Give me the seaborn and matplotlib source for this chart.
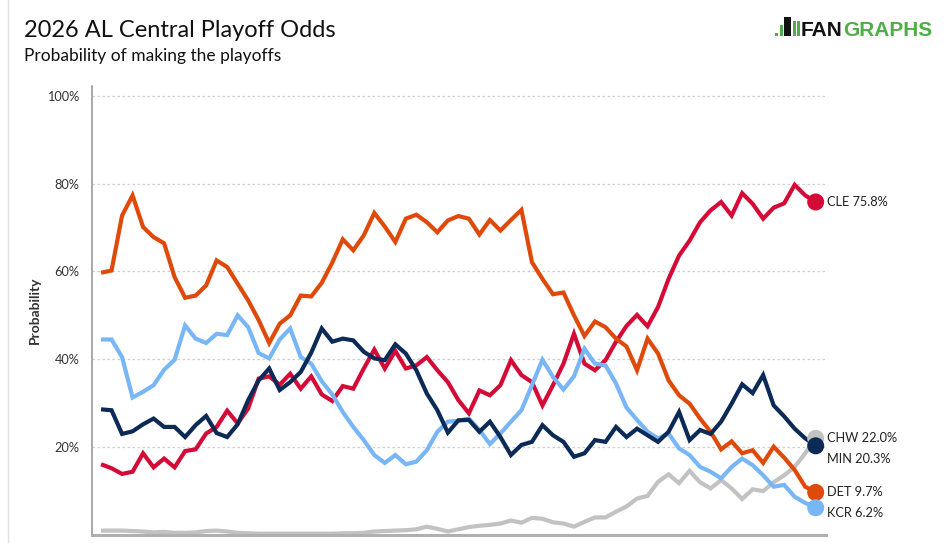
import matplotlib
matplotlib.use("Agg")
import matplotlib.pyplot as plt
import pandas as pd
import seaborn as sns
from matplotlib.lines import Line2D
from matplotlib.patches import Rectangle

# playoff odds (%) per update
cle = [16.1, 15.2, 13.9, 14.4, 18.6, 15.4, 17.4, 15.4, 19.1, 19.5,
       23.1, 24.6, 28.3, 25.4, 28.8, 35.6, 36.1, 34.2, 36.7, 33.3,
       36.1, 32.0, 30.5, 33.9, 33.3, 37.9, 42.2, 37.9, 41.9, 37.9,
       38.6, 40.5, 37.5, 34.8, 30.7, 27.7, 32.9, 31.8, 34.1, 39.8,
       36.4, 34.8, 29.5, 34.1, 39.0, 45.8, 39.0, 37.5, 39.8, 44.0,
       47.6, 50.1, 47.5, 51.9, 58.3, 63.6, 67.0, 71.2, 73.9, 75.8,
       72.7, 77.8, 75.4, 72.0, 74.5, 75.5, 79.7, 77.3, 75.8]
chw = [1.0, 1.0, 1.0, 0.9, 0.8, 0.6, 0.7, 0.5, 0.5, 0.6,
       0.9, 1.0, 0.8, 0.5, 0.4, 0.3, 0.3, 0.3, 0.3, 0.3,
       0.3, 0.3, 0.3, 0.4, 0.4, 0.5, 0.8, 0.9, 1.0, 1.1,
       1.3, 1.9, 1.4, 0.8, 1.3, 1.8, 2.1, 2.3, 2.6, 3.3,
       2.8, 3.9, 3.7, 2.9, 2.6, 1.9, 3.0, 4.0, 4.0, 5.3,
       6.5, 8.3, 8.9, 12.1, 13.8, 11.8, 14.6, 12.0, 10.6, 12.5,
       10.6, 8.2, 10.4, 10.0, 12.0, 13.6, 15.5, 18.6, 22.0]
mn = [28.6, 28.4, 23.0, 23.6, 25.2, 26.5, 24.6, 24.6, 22.3, 25.0,
      27.1, 23.2, 22.3, 25.2, 30.7, 35.2, 37.9, 33.0, 34.8, 37.1,
      41.5, 47.0, 44.0, 44.7, 44.3, 41.7, 40.2, 39.8, 43.4, 41.3,
      37.5, 32.2, 28.4, 23.3, 26.1, 26.2, 23.5, 25.8, 22.3, 18.2,
      20.5, 21.2, 25.0, 22.7, 21.2, 17.8, 18.6, 21.6, 21.2, 24.6,
      22.3, 24.2, 22.7, 21.2, 23.5, 28.0, 21.6, 23.9, 23.0, 25.8,
      29.9, 34.3, 32.3, 36.4, 29.5, 27.0, 24.2, 22.0, 20.3]
det = [59.7, 60.2, 72.7, 77.3, 70.1, 67.8, 66.4, 58.7, 54.0, 54.5,
       56.8, 62.5, 61.0, 57.2, 53.4, 48.9, 43.7, 48.1, 50.0, 54.5,
       54.3, 57.4, 62.0, 67.3, 64.8, 68.2, 73.3, 70.2, 66.7, 72.0,
       72.9, 71.2, 68.9, 71.6, 72.6, 72.0, 68.4, 71.7, 69.3, 71.7,
       74.0, 62.1, 58.3, 54.8, 55.2, 50.0, 45.3, 48.6, 47.3, 44.7,
       42.9, 37.5, 44.7, 41.3, 35.2, 31.8, 29.9, 26.5, 23.5, 19.5,
       21.3, 18.6, 19.3, 16.4, 20.1, 17.6, 14.8, 11.0, 9.7]
kcr = [44.5, 44.5, 40.5, 31.3, 32.6, 34.1, 37.6, 39.9, 47.7, 44.7,
       43.7, 45.8, 45.5, 50.0, 47.3, 41.4, 40.2, 44.5, 47.0, 40.5,
       39.0, 35.0, 32.0, 28.0, 24.6, 21.6, 18.2, 16.4, 18.2, 16.1,
       16.7, 19.3, 23.5, 25.8, 26.0, 26.5, 23.9, 20.7, 23.1, 25.8,
       28.4, 34.1, 39.9, 36.0, 33.1, 36.1, 42.4, 39.0, 38.6, 34.5,
       29.0, 26.2, 23.5, 22.0, 23.1, 19.7, 18.2, 15.5, 14.4, 12.9,
       15.5, 17.4, 15.9, 13.6, 11.0, 11.4, 8.7, 7.3, 6.2]

teams = ["CHW", "CLE", "DET", "KCR", "MIN"]
series = {"CLE": cle, "CHW": chw, "MIN": mn, "DET": det, "KCR": kcr}
palette = {"CLE": "#d40b37", "CHW": "#c2c2c2", "MIN": "#0b2a55",
           "DET": "#df4a0b", "KCR": "#78b6f6"}

rows = []
for team, vals in series.items():
    for i, v in enumerate(vals):
        rows.append({"team": team, "step": i, "odds": v})
df = pd.DataFrame(rows)
n = len(cle)

FONT = ["Lato", "DejaVu Sans"]
W, H = 952, 543
fig = plt.figure(figsize=(W / 100, H / 100), dpi=100)
ax = fig.add_axes([92 / W, 8 / H, (826 - 92) / W, (535 - 86) / H])
plt.rcParams["font.family"] = FONT

for v in [20, 40, 60, 80, 100]:
    ax.axhline(v, color="#cfcfcf", lw=0.9, ls=(0, (2, 2)), zorder=0)

sns.lineplot(data=df, x="step", y="odds", hue="team", hue_order=teams,
             palette=palette, linewidth=3.0, legend=False, ax=ax,
             solid_joinstyle="miter", solid_capstyle="butt")

last = df[df["step"] == n - 1]
sns.scatterplot(data=last, x="step", y="odds", hue="team", hue_order=teams,
                palette=palette, s=150, linewidth=0, legend=False, ax=ax,
                zorder=5)

# end labels, pushed apart when they collide
order = sorted(series, key=lambda t: -series[t][-1])
prev = None
for team in order:
    yv = series[team][-1]
    if prev is not None and prev - yv < 4.8:
        yv = prev - 4.8
    prev = yv
    ax.text(n - 1 + 1.1, yv, f"{team} {series[team][-1]:.1f}%",
            va="center", ha="left", fontsize=9.2, color="#222222", family=FONT)

ax.set_xlim(-0.86, n - 1 + 0.98)
ax.set_ylim(0, 102.2)
ax.set_xticks([])
ax.set_yticks([20, 40, 60, 80, 100])
ax.set_yticklabels([f"{v}%" for v in [20, 40, 60, 80, 100]],
                   fontsize=9.2, color="#333333", family=FONT)
ax.tick_params(axis="y", length=0, pad=9)
ax.set_xlabel("")
ax.set_ylabel("Probability", fontsize=10, fontweight="bold", color="#333333",
              family=FONT)
ax.yaxis.set_label_coords(-51 / 734, 0.5)

for side in ["top", "right"]:
    ax.spines[side].set_visible(False)
ax.spines["left"].set_color("#9a9a9a")
ax.spines["left"].set_linewidth(1.2)
ax.spines["bottom"].set_color("#b0b0b0")
ax.spines["bottom"].set_linewidth(2.2)
ax.set_facecolor("white")

fig.text(24 / W, 1 - 37 / H, "2026 AL Central Playoff Odds", fontsize=17,
         color="#111111", va="baseline", ha="left", family=FONT)
fig.text(24 / W, 1 - 61 / H, "Probability of making the playoffs", fontsize=12.5,
         color="#111111", va="baseline", ha="left", family=FONT)

# page border line
fig.add_artist(Line2D([8 / W, 8 / W], [0, 1], color="#e0e0e0", lw=1,
                      transform=fig.transFigure))

# FanGraphs logo
green = "#4fae47"
for x0, y0, w, h, c in [(775, 33, 3, 3, green), (780, 25, 3, 11, green),
                        (784, 17, 7, 19, "#111111"), (793, 21, 3, 15, green),
                        (797, 21, 3, 15, green)]:
    fig.add_artist(Rectangle((x0 / W, 1 - (y0 + h) / H), w / W, h / H,
                             color=c, transform=fig.transFigure, lw=0))
fan = fig.text(801 / W, 1 - 35.5 / H, "FAN", fontsize=15, fontweight="bold",
               color="#111111", va="baseline", ha="left", family="Liberation Sans")
ax.annotate("GRAPHS", xy=(1, 0), xycoords=fan, va="bottom", ha="left",
            fontsize=15, fontweight="bold", color=green, family="Liberation Sans",
            annotation_clip=False)

fig.savefig("out.png", dpi=100, facecolor="white")
